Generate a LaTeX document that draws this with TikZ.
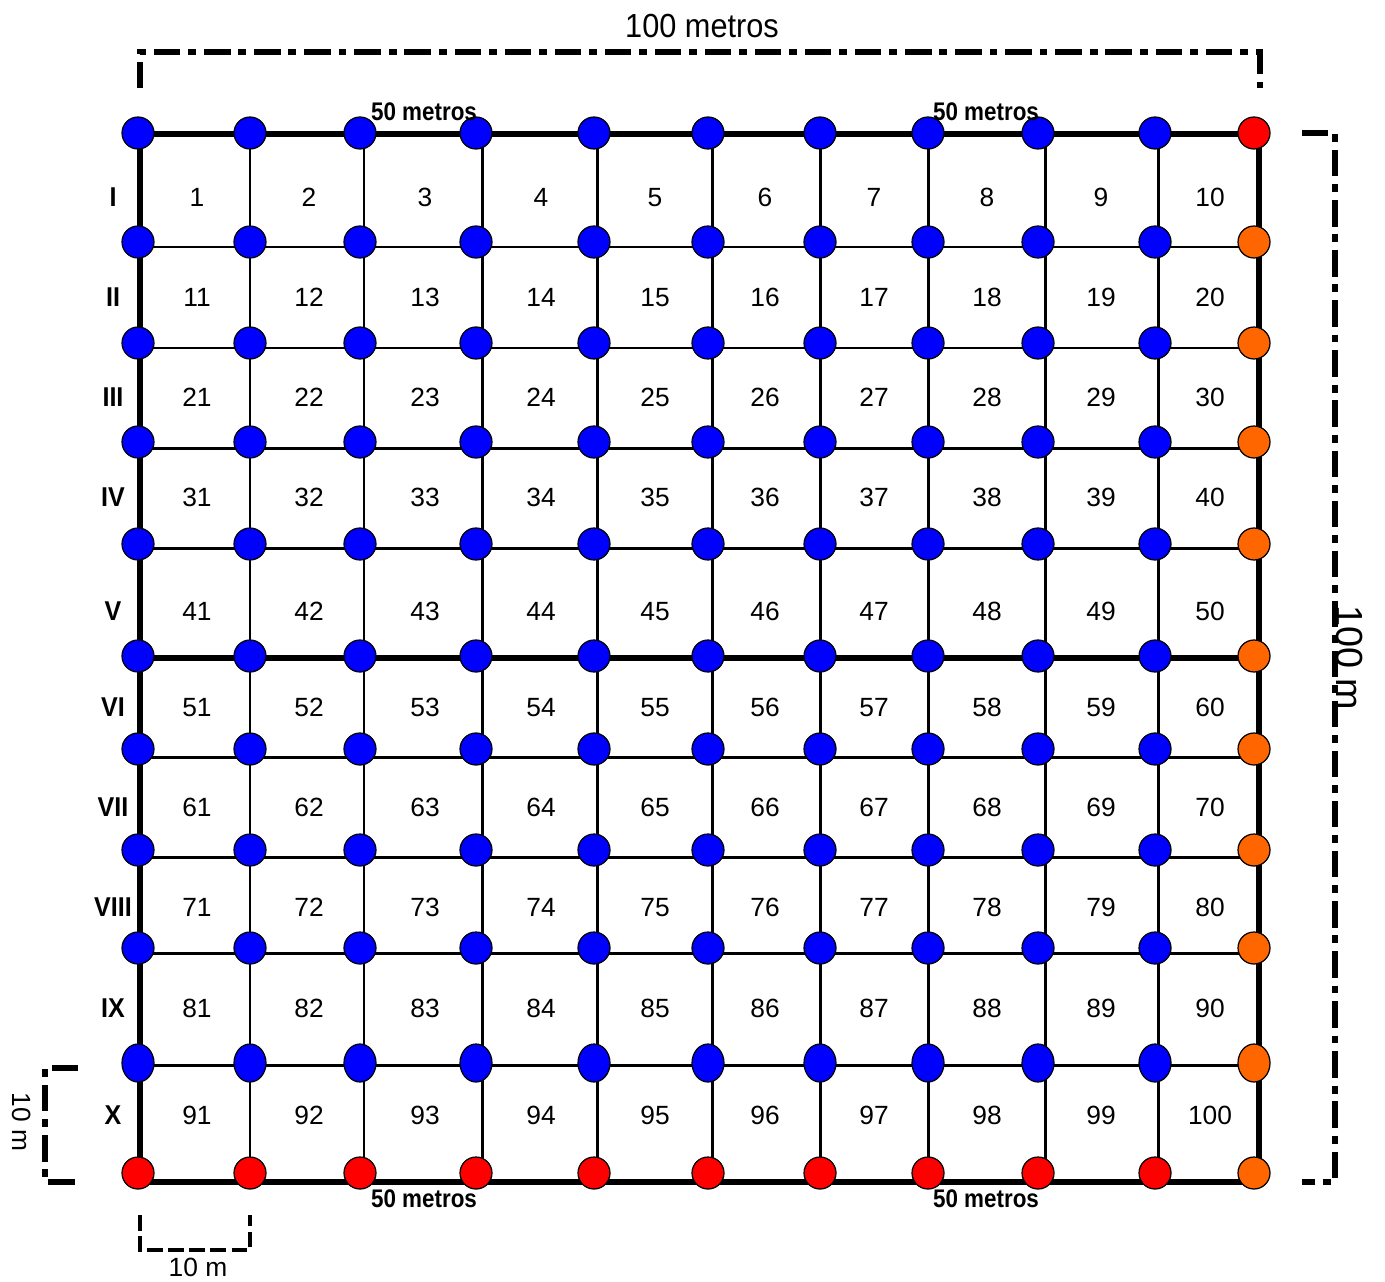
\documentclass[tikz,border=0pt]{standalone}
\usepackage{fontspec}
\setmainfont{Liberation Sans}
\usetikzlibrary{shapes.geometric}

\definecolor{dotblue}{RGB}{0,0,255}
\definecolor{dotred}{RGB}{255,0,0}
\definecolor{dotorange}{RGB}{255,102,0}

\begin{document}
\begin{tikzpicture}[x=0.02cm, y=-0.02cm,
  border/.style={black, line width=3.2pt},
  inner/.style={black, line width=1.7pt},
  measure/.style={black, line width=3.3pt, dash pattern=on 15pt off 4.5pt on 4.5pt off 4.5pt},
  shortmeasure/.style={black, line width=2.6pt, dash pattern=on 9pt off 3pt},
  dot/.style={ellipse, draw=black, line width=0.7pt, minimum width=0.64cm, minimum height=0.64cm, inner sep=0pt},
  celltext/.style={font=\fontsize{15}{17}\selectfont, text height=10.8pt, text depth=0pt},
  rowtext/.style={font=\bfseries\fontsize{15.5}{17}\selectfont, xscale=0.92, text height=11pt, text depth=0pt},
  halftext/.style={font=\bfseries\fontsize{14.5}{16}\selectfont, xscale=0.88},
  dimtext/.style={font=\fontsize{19}{21}\selectfont, xscale=0.92}]
\useasboundingbox (0,0) rectangle (1385,1281);

% grid corners
\foreach \x [count=\j from 0] in {140,250,364,482,597,712,820,928,1045,1158,1259}
  \foreach \y [count=\i from 0] in {134,247,348,448,548,658,757,857,953,1065,1182}
    \coordinate (g-\i-\j) at (\x,\y);

% lines
\foreach \i in {1,2,3,4,6,7,8,9}
  \draw[inner] (g-\i-0) -- (g-\i-10);
\foreach \j in {1,...,9}
  \draw[inner] (g-0-\j) -- (g-10-\j);
\draw[border] (g-5-0) -- (g-5-10);
\draw[border] (g-0-0) rectangle (g-10-10);

% sampling points
\foreach \x [count=\j from 0] in {138,250,360,476,594,708,820,928,1038,1155,1254}
  \foreach \y [count=\i from 0] in {133,242,343,442,544,656,749,850,948,1063,1173}{
    \ifnum\j=10 \def\dc{dotorange}\else\ifnum\i=10 \def\dc{dotred}\else\def\dc{dotblue}\fi\fi
    \ifnum\i=0 \ifnum\j=10 \def\dc{dotred}\fi\fi
    \ifnum\i=9 \def\dh{0.76cm}\else\def\dh{0.64cm}\fi
    \node[dot, fill=\dc, minimum height=\dh] (p-\i-\j) at (\x,\y) {};
  }

% plot numbers
\foreach \y [count=\i from 0] in {197,297,397,497,611,707,807,907,1008,1115}
  \foreach \x [count=\j from 1] in {197,309,425,541,655,765,874,987,1101,1210}{
    \pgfmathtruncatemacro\n{10*\i+\j}
    \node[celltext] (c-\n) at (\x,\y) {\n};
  }

% strips
\foreach \r/\y in {I/197,II/297,III/397,IV/497,V/611,VI/707,VII/807,VIII/907,IX/1008,X/1115}
  \node[rowtext] (r-\r) at (113,\y) {\r};

\node[halftext] (half-tl) at (424,112) {50 metros};
\node[halftext] (half-tr) at (986,112) {50 metros};
\node[halftext] (half-bl) at (424,1199) {50 metros};
\node[halftext] (half-br) at (986,1199) {50 metros};

% dimensions
\coordinate (top-a) at (140,88);
\coordinate (top-b) at (140,52);
\coordinate (top-c) at (1260,52);
\coordinate (top-d) at (1260,88);
\draw[measure] (top-a) -- (top-b) -- (top-c) -- (top-d);
\node[dimtext] (len-top) at (702,26) {100 metros};

\coordinate (right-a) at (1302,133);
\coordinate (right-b) at (1335,133);
\coordinate (right-c) at (1335,1182);
\coordinate (right-d) at (1302,1182);
\draw[measure] (right-a) -- (right-b) -- (right-c) -- (right-d);
\node[font=\fontsize{21.5}{24}\selectfont, rotate=-90] (len-right) at (1349,658) {100 m};

\coordinate (left-a) at (78,1068);
\coordinate (left-b) at (45,1068);
\coordinate (left-c) at (45,1182);
\coordinate (left-d) at (78,1182);
\draw[measure] (left-a) -- (left-b) -- (left-c) -- (left-d);
\node[font=\fontsize{15}{17}\selectfont, rotate=-90] (len-left) at (22,1122) {10 m};

\coordinate (bot-a) at (140,1215);
\coordinate (bot-b) at (140,1250);
\coordinate (bot-c) at (250,1250);
\coordinate (bot-d) at (250,1215);
\draw[shortmeasure] (bot-a) -- (bot-b) -- (bot-c) -- (bot-d);
\node[celltext] (len-bot) at (198,1267) {10 m};
\end{tikzpicture}
\end{document}
